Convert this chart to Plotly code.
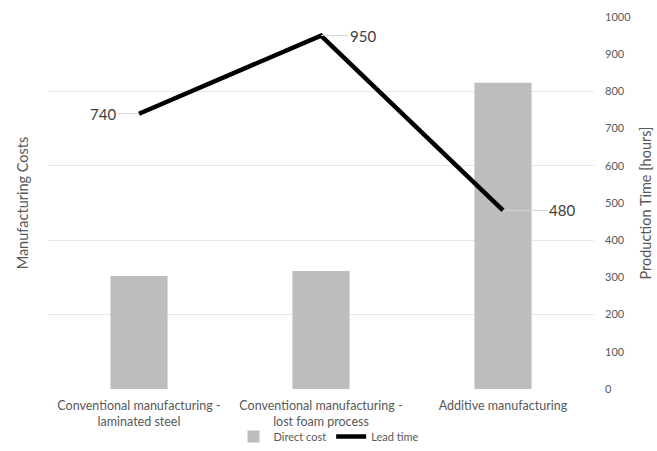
import plotly.graph_objects as go

categories = [
    "Conventional manufacturing -<br>laminated steel",
    "Conventional manufacturing -<br>lost foam process",
    "Additive manufacturing",
]
direct_cost = [304, 317, 823]
lead_time = [740, 950, 480]
label_offsets = [-36, 42, 59]

font_family = "Lato, Open Sans, Liberation Sans, Arial, sans-serif"
text_grey = "#595959"

fig = go.Figure()

fig.add_trace(go.Bar(
    x=categories, y=direct_cost, name="Direct cost",
    marker=dict(color="#bdbdbd", line=dict(width=0)),
    width=0.314, yaxis="y",
))
fig.add_trace(go.Scatter(
    x=categories, y=lead_time, name="Lead time", mode="lines",
    line=dict(color="#000000", width=4.5), yaxis="y2",
))

# value labels with thin leader lines
for cat, val, off in zip(categories, lead_time, label_offsets):
    fig.add_annotation(
        x=cat, y=val, xref="x", yref="y2", text=str(val),
        showarrow=True, arrowhead=0, arrowwidth=1, arrowcolor="#d4d4d4",
        ax=off, ay=0, standoff=0,
        font=dict(family=font_family, size=15, color="#404040"),
    )

fig.update_layout(
    width=657, height=451,
    margin=dict(l=48, r=63, t=17, b=62, autoexpand=False),
    paper_bgcolor="white", plot_bgcolor="white",
    font=dict(family=font_family, color=text_grey),
    showlegend=True,
    legend=dict(
        orientation="h", x=0.5, xanchor="center", xref="container",
        y=-0.016, yanchor="bottom", yref="container",
        font=dict(size=11, color=text_grey), itemwidth=30,
        tracegroupgap=0, bgcolor="rgba(0,0,0,0)",
    ),
    xaxis=dict(
        showgrid=False, showline=False, zeroline=False,
        tickfont=dict(size=12.5, color=text_grey), ticks="",
        ticklabelstandoff=7, automargin=False,
    ),
    yaxis=dict(
        range=[0, 1000], dtick=200, showticklabels=False,
        showgrid=True, gridcolor="#e8e8e8", gridwidth=1, zeroline=False,
        automargin=False,
        title=dict(text="Manufacturing Costs", font=dict(size=14.5, color=text_grey), standoff=14),
    ),
    yaxis2=dict(
        range=[0, 1000], dtick=100, overlaying="y", side="right",
        showgrid=False, zeroline=False, showline=False, automargin=False,
        tickfont=dict(size=11, color=text_grey), ticklabelstandoff=10,
        title=dict(text="Production Time [hours]", font=dict(size=14.5, color=text_grey), standoff=10),
    ),
)

fig.write_html("out.html")
